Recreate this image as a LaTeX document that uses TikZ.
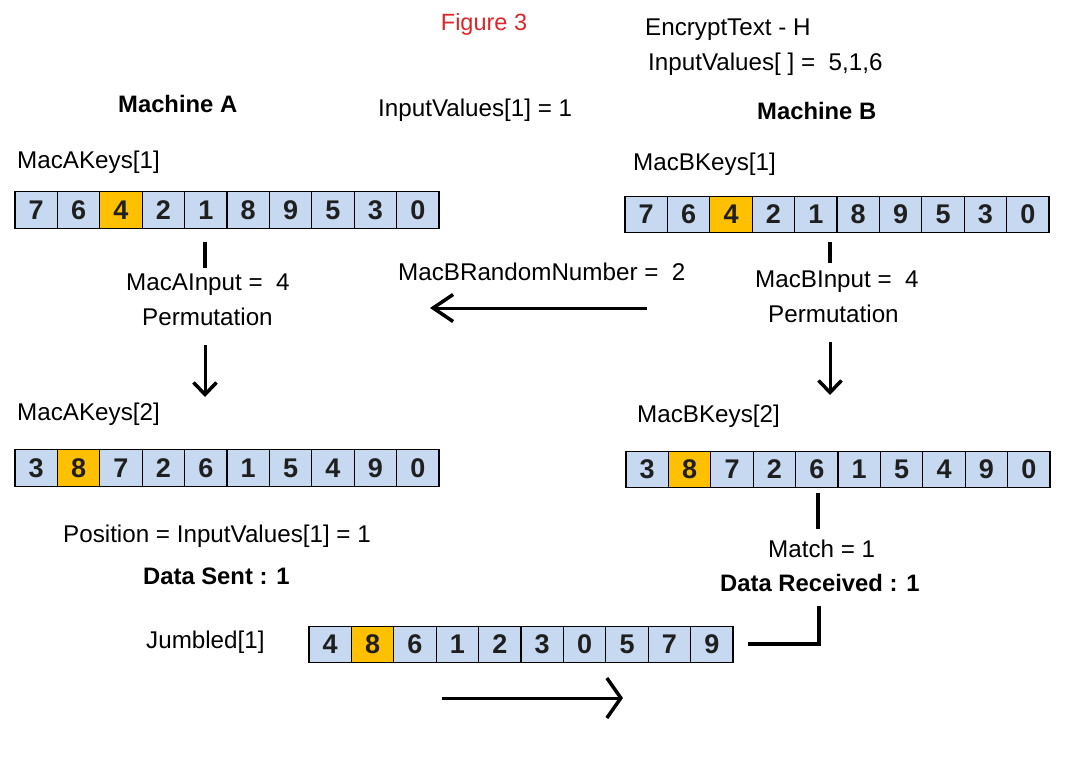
\documentclass[tikz,border=0pt]{standalone}
\usepackage{fontspec}
\setmainfont{Liberation Sans}
\usetikzlibrary{arrows.meta}

\definecolor{cellblue}{RGB}{198,217,241}
\definecolor{cellgold}{RGB}{255,192,0}
\definecolor{figred}{RGB}{222,38,42}

\tikzset{
  lbl/.style={anchor=base west, inner sep=0pt, font=\fontsize{24.2}{28}\selectfont},
  blbl/.style={anchor=base west, inner sep=0pt, font=\fontsize{23.8}{28}\selectfont\bfseries},
  cell/.style={draw=black, line width=1.3pt, minimum width=42.4pt, minimum height=36.5pt,
    inner sep=0pt, font=\fontsize{27}{30}\selectfont\bfseries, text=black!88},
  tick/.style={line width=4pt},
  flow/.style={line width=3pt},
}

% one row of ten key cells; #1 name, #2 left edge, #3 centre line, #4 digits, #5 highlighted cell
\newcommand\keyrow[5]{%
  \foreach \v [count=\i] in {#4} {%
    \ifnum\i=#5\def\cellfill{cellgold}\else\def\cellfill{cellblue}\fi
    \node[cell, fill=\cellfill] (#1-\i) at (#2+\i*42.4-21.2, #3) {\v};
  }%
}

\begin{document}
\begin{tikzpicture}[x=1pt, y=-1pt]
\useasboundingbox[fill=white] (0,0) rectangle (1065,756);

% headings
\node[anchor=base, inner sep=0pt, font=\fontsize{23.5}{27}\selectfont, text=figred] (fig) at (484,30) {Figure 3};
\node[lbl] (enc) at (645,35) {EncryptText - H};
\node[lbl] (inv) at (648,70) {InputValues[ ] =\ \ 5,1,6};
\node[blbl] (macA) at (118,112) {Machine A};
\node[lbl] (inv1) at (378,116) {InputValues[1] = 1};
\node[blbl] (macB) at (757,119) {Machine B};

% key arrays
\node[lbl] (akAl) at (17,168) {MacAKeys[1]};
\node[lbl] (bkAl) at (633,170) {MacBKeys[1]};
\keyrow{akA}{15}{210}{7,6,4,2,1,8,9,5,3,0}{3}
\keyrow{bkA}{625}{214.5}{7,6,4,2,1,8,9,5,3,0}{3}

\node[lbl] (aIn) at (126,290) {MacAInput =\ \ 4};
\node[lbl] (aPerm) at (142,325) {Permutation};
\node[lbl] (bRand) at (398,280) {MacBRandomNumber =\ \ 2};
\node[lbl] (bIn) at (755,287) {MacBInput =\ \ 4};
\node[lbl] (bPerm) at (768,322) {Permutation};

\node[lbl] (akBl) at (17,420) {MacAKeys[2]};
\node[lbl] (bkBl) at (637,422) {MacBKeys[2]};
\keyrow{akB}{15}{468}{3,8,7,2,6,1,5,4,9,0}{2}
\keyrow{bkB}{626}{469.5}{3,8,7,2,6,1,5,4,9,0}{2}

\node[lbl] (pos) at (63,542) {Position = InputValues[1] = 1};
\node[blbl] (sent) at (143,584) {Data Sent : 1};
\node[lbl] (match) at (768,557) {Match = 1};
\node[blbl] (recv) at (720,591) {Data Received : 1};

\node[lbl] (jbl) at (146,648) {Jumbled[1]};
\keyrow{jb}{309}{644.5}{4,8,6,1,2,3,0,5,7,9}{2}

% connector end points
\coordinate (aArrS) at (205,345);
\coordinate (aArrE) at (205,397);
\coordinate (bTickS) at (830,242);
\coordinate (bTickE) at (830,263);
\coordinate (bArrS) at (830,342);
\coordinate (bArrE) at (830,395);
\coordinate (randS) at (647,308);
\coordinate (randE) at (430,308);
\coordinate (lStart) at (750,644);
\coordinate (lCorner) at (819,644);
\coordinate (lTop) at (819,608);
\coordinate (sendS) at (442,698);
\coordinate (sendE) at (623,698);

% connectors
\draw[tick] (akA-5.south) ++(-0.8,13) -- ++(0,26);
\draw[flow, -{Straight Barb[length=12pt,width=23pt,line width=3.5pt]}] (aArrS) -- (aArrE);
\draw[tick] (bTickS) -- (bTickE);
\draw[flow, -{Straight Barb[length=12pt,width=23pt,line width=3.5pt]}] (bArrS) -- (bArrE);
\draw[flow, -{Straight Barb[length=20pt,width=27pt,line width=3.5pt]}] (randS) -- (randE);
\draw[tick] (bkB-5.south) ++(1.2,5) -- ++(0,36);
\draw[tick, line cap=rect] (lStart) -- (lCorner) -- (lTop);
\draw[flow, -{Straight Barb[length=14pt,width=40pt,line width=3.5pt]}] (sendS) -- (sendE);
\end{tikzpicture}
\end{document}
